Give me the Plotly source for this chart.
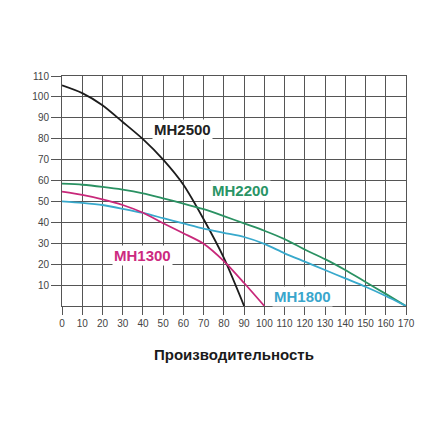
import plotly.graph_objects as go

x_mh2500 = [0, 10, 20, 30, 40, 50, 60, 70, 80, 90]
y_mh2500 = [105.5, 101.8, 96, 88, 79.8, 70, 58, 41.5, 23, 0]

x_mh2200 = [0, 10, 20, 30, 40, 50, 60, 70, 80, 90, 100, 110, 120, 130, 140, 150, 160, 170]
y_mh2200 = [58.5, 58, 57, 55.7, 53.9, 51.5, 49, 46.3, 43, 39.5, 36, 32, 27, 22.4, 17.2, 11.5, 5.8, 0]

x_mh1800 = [0, 10, 20, 30, 40, 50, 60, 70, 80, 90, 100, 110, 120, 130, 140, 150, 160, 170]
y_mh1800 = [50, 49.3, 48.3, 46.5, 44.5, 42, 39.5, 37, 35, 33, 29.7, 25.2, 21.2, 17.2, 13.2, 9.2, 4.8, 0]

x_mh1300 = [0, 10, 20, 30, 40, 50, 60, 70, 80, 90, 100]
y_mh1300 = [54.7, 53.1, 51, 48.3, 44.6, 39.6, 34.8, 29.8, 21.5, 11, 0]

x_ticks = list(range(0, 171, 10))
y_ticks = list(range(10, 111, 10))

series = [
    ("MH2500", x_mh2500, y_mh2500, "#1c1c1c", "#222222", 59.3, 84.5),
    ("MH2200", x_mh2200, y_mh2200, "#2a9162", "#2a9465", 88.3, 55.1),
    ("MH1800", x_mh1800, y_mh1800, "#38a9cc", "#3aa6cc", 119.0, 4.5),
    ("MH1300", x_mh1300, y_mh1300, "#c8287a", "#cc2a7f", 39.7, 24.1),
]

fig = go.Figure()
for name, xs, ys, lc, tc, lx, ly in series:
    fig.add_trace(go.Scatter(x=xs, y=ys, mode="lines", name=name,
                             line=dict(color=lc, width=1.8, shape="spline", smoothing=0.7),
                             showlegend=False, hoverinfo="skip"))
    fig.add_annotation(x=lx, y=ly, text="<b>" + name + "</b>", showarrow=False,
                       font=dict(family="Liberation Sans", size=15, color=tc),
                       bgcolor="white", borderpad=1)

fig.add_annotation(x=0.5, y=-0.213, xref="paper", yref="paper",
                   text="<b>Производительность</b>", showarrow=False,
                   font=dict(family="Liberation Sans", size=15, color="#1a1a1a"),
                   xanchor="center", yanchor="middle")

axis_common = dict(showgrid=True, gridcolor="#555555", gridwidth=1,
                   showline=True, linecolor="#555555", linewidth=1, mirror=True,
                   ticks="outside", tickcolor="#555555",
                   tickfont=dict(family="Liberation Sans", size=10, color="#444444"),
                   zeroline=False, fixedrange=True)

fig.update_xaxes(range=[0, 170], tickvals=x_ticks, ticklen=8, tickangle=0, **axis_common)
fig.update_yaxes(range=[0, 110], tickvals=y_ticks, ticklen=10, **axis_common)

fig.update_layout(width=440, height=440,
                  margin=dict(l=62, r=34, t=76, b=134),
                  paper_bgcolor="white", plot_bgcolor="white")

fig.write_html("out.html")
